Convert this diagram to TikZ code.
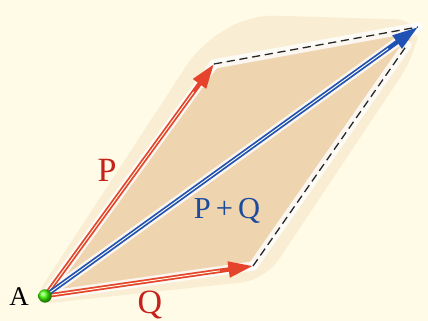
\documentclass[tikz,border=0pt]{standalone}
\usepackage{fontspec}
\setmainfont{Liberation Serif}
\usetikzlibrary{arrows.meta,calc}
\definecolor{creamc}{HTML}{FFFBE6}
\definecolor{tanc}{HTML}{EFD4B0}
\definecolor{vecred}{HTML}{E5432C}
\definecolor{vecblue}{HTML}{2051B4}
\definecolor{labred}{HTML}{C4221B}
\definecolor{labblue}{HTML}{1B4B9C}
\tikzset{
  halo/.style={white, line width=8pt, line cap=round, opacity=0.8},
  redvec/.style={vecred, line width=3.8pt, -{Triangle[length=21pt,width=13pt]}},
  bluevec/.style={vecblue, line width=3.8pt, -{Triangle[length=22pt,width=13pt]}},
  core/.style={white!90!yellow, line width=0.8pt},
  guide/.style={black!85, line width=1.1pt, dash pattern=on 7pt off 4pt},
  lab/.style={font=\fontsize{29}{29}\selectfont},
}

\begin{document}
\begin{tikzpicture}[x=0.03cm, y=-0.03cm]
  \fill[creamc] (0,0) rectangle (428,321);
  \useasboundingbox (0,0) rectangle (428,321);
  \coordinate (A) at (45,296);
  \coordinate (P) at (214,64);
  \coordinate (Q) at (253,266);
  \coordinate (R) at (418,27);
  \coordinate (Rq) at (407,45);
  % shaded parallelogram, soft edge
  \fill[tanc, opacity=0.35, rounded corners=20pt] (30,305) -- (200,45) -- (250,15) -- (420,20) -- (415,55) -- (265,280) -- cycle;
  \fill[tanc, rounded corners=12pt] (A) -- (P) -- (R) -- (Rq) -- (Q) -- cycle;
  % white glow
  \draw[halo] (A) -- (P);
  \draw[halo] (A) -- (Q);
  \draw[halo] (A) -- (R);
  \draw[halo] (P) -- (R);
  \draw[halo] (Q) -- (Rq);
  % dashed completion lines
  \draw[guide] (P) -- (R);
  \draw[guide] (Q) -- (Rq);
  % vectors
  \draw[redvec] (A) -- (P);
  \draw[core] (A) -- ($(A)!0.88!(P)$);
  \draw[redvec] (A) -- (Q);
  \draw[core] (A) -- ($(A)!0.84!(Q)$);
  \draw[bluevec] (A) -- (R);
  \draw[core] (A) -- ($(A)!0.92!(R)$);
  % point A
  \shade[ball color=green!75!yellow] (A) circle (0.2cm);
  \node[font=\fontsize{23}{23}\selectfont, text=black] (labA) at (19,297) {A};
  \node[lab, text=labred] (labP) at (107,170) {P};
  \node[lab, text=labred] (labQ) at (150,305) {Q};
  \node[font=\fontsize{26}{26}\selectfont, text=labblue] (labR) at (227,211) {P\,+\,Q};
\end{tikzpicture}
\end{document}
